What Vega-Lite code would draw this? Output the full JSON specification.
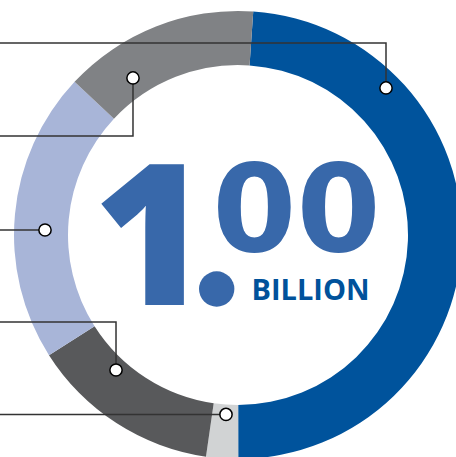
{
  "$schema": "https://vega.github.io/schema/vega-lite/v6.json",
  "width": 456,
  "height": 457,
  "padding": 0,
  "autosize": {"type": "none"},
  "background": "white",
  "config": {"view": {"stroke": null}},
  "datasets": {
    "segments": [
      {"idx": 1, "segment": "Blue", "share": 48.9},
      {"idx": 2, "segment": "Light gray", "share": 2.3},
      {"idx": 3, "segment": "Dark gray", "share": 13.7},
      {"idx": 4, "segment": "Light blue", "share": 21.0},
      {"idx": 5, "segment": "Medium gray", "share": 14.1}
    ],
    "leaders": [
      {"leader": "Blue", "step": 0, "u": 66.07, "v": 65.63},
      {"leader": "Blue", "step": 1, "u": 66.07, "v": 85.71},
      {"leader": "Blue", "step": 2, "u": -110, "v": 85.71},
      {"leader": "Medium gray", "step": 0, "u": -46.88, "v": 70.09},
      {"leader": "Medium gray", "step": 1, "u": -46.88, "v": 44.2},
      {"leader": "Medium gray", "step": 2, "u": -110, "v": 44.2},
      {"leader": "Light blue", "step": 0, "u": -86.16, "v": 2.23},
      {"leader": "Light blue", "step": 1, "u": -110, "v": 2.23},
      {"leader": "Dark gray", "step": 0, "u": -54.46, "v": -60.27},
      {"leader": "Dark gray", "step": 1, "u": -54.46, "v": -38.84},
      {"leader": "Dark gray", "step": 2, "u": -110, "v": -38.84},
      {"leader": "Light gray", "step": 0, "u": -5.36, "v": -80.13},
      {"leader": "Light gray", "step": 1, "u": -110, "v": -80.13}
    ],
    "headline": [
      {"part": "one", "text": "1", "u": -38.84, "v": -31.03},
      {"part": "decimals", "text": "00", "u": 26.12, "v": -7.14},
      {"part": "unit", "text": "BILLION", "u": 32.37, "v": -29.02},
      {"part": "point", "text": ".", "u": -9.51, "v": -24.11}
    ]
  },
  "layer": [
    {
      "data": {"name": "segments"},
      "mark": {"type": "arc", "outerRadius": 224, "innerRadius": 170},
      "encoding": {
        "x": {"datum": 0, "type": "quantitative", "scale": {"domain": [-106.25, 97.32], "nice": false, "zero": false}, "axis": null},
        "y": {"datum": 0, "type": "quantitative", "scale": {"domain": [-99.11, 104.91], "nice": false, "zero": false}, "axis": null},
        "theta": {"field": "share", "type": "quantitative", "stack": true, "scale": {"range": [0.0681, 6.3513]}},
        "order": {"field": "idx", "type": "quantitative"},
        "color": {
          "field": "segment",
          "type": "nominal",
          "scale": {
            "domain": ["Blue", "Light gray", "Dark gray", "Light blue", "Medium gray"],
            "range": ["#00539C", "#D1D3D4", "#58595B", "#A8B5D8", "#808285"]
          },
          "legend": null
        }
      }
    },
    {
      "data": {"name": "leaders"},
      "mark": {"type": "line", "stroke": "#333333", "strokeWidth": 1.5, "interpolate": "linear"},
      "encoding": {
        "x": {"field": "u", "type": "quantitative", "scale": {"domain": [-106.25, 97.32], "nice": false, "zero": false}, "axis": null},
        "y": {"field": "v", "type": "quantitative", "scale": {"domain": [-99.11, 104.91], "nice": false, "zero": false}, "axis": null},
        "detail": {"field": "leader", "type": "nominal"},
        "order": {"field": "step", "type": "quantitative"}
      }
    },
    {
      "data": {"name": "leaders"},
      "transform": [{"filter": "datum.step == 0"}],
      "mark": {"type": "point", "shape": "circle", "filled": true, "fill": "white", "stroke": "black", "strokeWidth": 1.5, "size": 150, "opacity": 1},
      "encoding": {
        "x": {"field": "u", "type": "quantitative", "scale": {"domain": [-106.25, 97.32], "nice": false, "zero": false}, "axis": null},
        "y": {"field": "v", "type": "quantitative", "scale": {"domain": [-99.11, 104.91], "nice": false, "zero": false}, "axis": null}
      }
    },
    {
      "data": {"name": "headline"},
      "transform": [{"filter": "datum.part == 'point'"}],
      "mark": {"type": "point", "shape": "circle", "filled": true, "fill": "#3868AA", "strokeWidth": 0, "size": 1250, "opacity": 1},
      "encoding": {
        "x": {"field": "u", "type": "quantitative", "scale": {"domain": [-106.25, 97.32], "nice": false, "zero": false}, "axis": null},
        "y": {"field": "v", "type": "quantitative", "scale": {"domain": [-99.11, 104.91], "nice": false, "zero": false}, "axis": null}
      }
    },
    {
      "data": {"name": "headline"},
      "transform": [{"filter": "datum.part == 'one'"}],
      "mark": {"type": "text", "font": "Open Sans", "fontWeight": 800, "fontSize": 197, "align": "center", "baseline": "alphabetic", "fill": "#3868AA"},
      "encoding": {
        "x": {"field": "u", "type": "quantitative", "scale": {"domain": [-106.25, 97.32], "nice": false, "zero": false}, "axis": null},
        "y": {"field": "v", "type": "quantitative", "scale": {"domain": [-99.11, 104.91], "nice": false, "zero": false}, "axis": null},
        "text": {"field": "text"}
      }
    },
    {
      "data": {"name": "headline"},
      "transform": [{"filter": "datum.part == 'decimals'"}],
      "mark": {"type": "text", "font": "DejaVu Sans", "fontWeight": "bold", "fontSize": 121, "align": "center", "baseline": "alphabetic", "fill": "#3868AA"},
      "encoding": {
        "x": {"field": "u", "type": "quantitative", "scale": {"domain": [-106.25, 97.32], "nice": false, "zero": false}, "axis": null},
        "y": {"field": "v", "type": "quantitative", "scale": {"domain": [-99.11, 104.91], "nice": false, "zero": false}, "axis": null},
        "text": {"field": "text"}
      }
    },
    {
      "data": {"name": "headline"},
      "transform": [{"filter": "datum.part == 'unit'"}],
      "mark": {"type": "text", "font": "Open Sans", "fontWeight": "bold", "fontSize": 29, "align": "center", "baseline": "alphabetic", "fill": "#00529B"},
      "encoding": {
        "x": {"field": "u", "type": "quantitative", "scale": {"domain": [-106.25, 97.32], "nice": false, "zero": false}, "axis": null},
        "y": {"field": "v", "type": "quantitative", "scale": {"domain": [-99.11, 104.91], "nice": false, "zero": false}, "axis": null},
        "text": {"field": "text"}
      }
    }
  ]
}
